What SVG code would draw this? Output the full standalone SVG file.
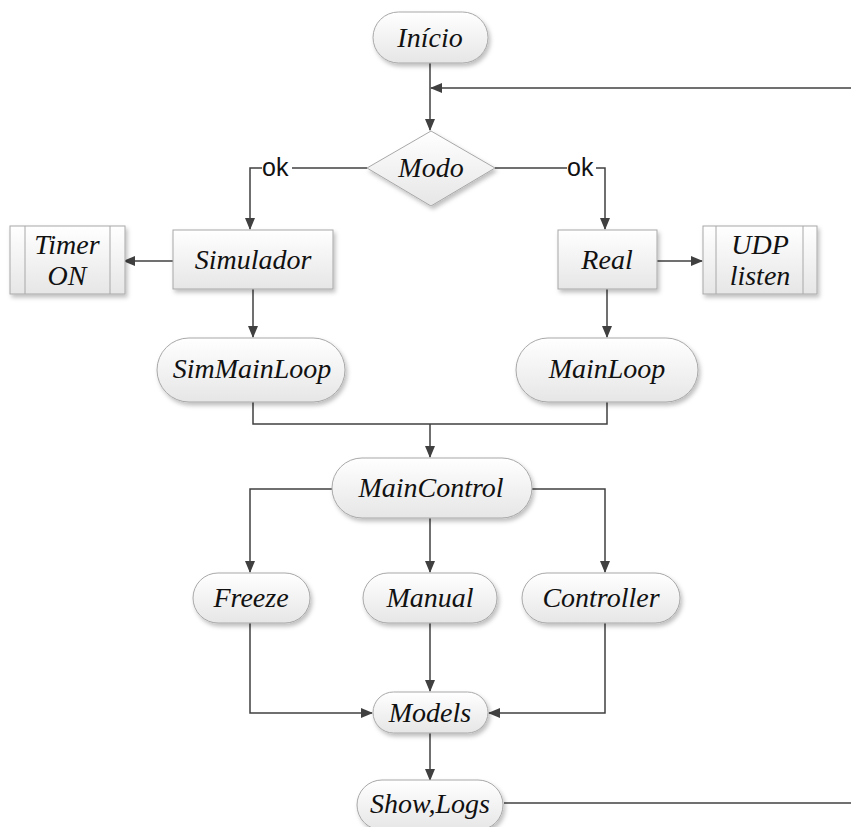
<svg xmlns="http://www.w3.org/2000/svg" width="851" height="827" viewBox="0 0 851 827">
  <style>
    .shape { fill: url(#fillGrad); stroke: #a8a8a8; stroke-width: 1; filter: url(#shadow); }
    .inner { stroke: #a8a8a8; stroke-width: 1; fill: none; }
    .label { font-family: "Liberation Serif", "DejaVu Serif", serif; font-style: italic; font-size: 28px; fill: #111; text-anchor: middle; }
    .ok { font-family: "Liberation Sans", "DejaVu Sans", sans-serif; font-size: 25px; fill: #111; }
    .wire { fill: none; stroke: #404040; stroke-width: 1.5; }
    .arrow { marker-end: url(#head); }
  </style>
  <defs>
    <linearGradient id="fillGrad" x1="0" y1="0" x2="0" y2="1">
      <stop offset="0" stop-color="#ffffff"/>
      <stop offset="1" stop-color="#e6e6e6"/>
    </linearGradient>
    <filter id="shadow" x="-20%" y="-20%" width="140%" height="150%">
      <feDropShadow dx="2" dy="3" stdDeviation="2" flood-color="#000" flood-opacity="0.25"/>
    </filter>
    <marker id="head" markerWidth="12" markerHeight="10" refX="11" refY="5" orient="auto" markerUnits="userSpaceOnUse">
      <path d="M0,0 L12,5 L0,10 Z" fill="#404040"/>
    </marker>
  </defs>

  <!-- connectors -->
  <g id="connectors">
    <path class="wire arrow" d="M430,63 V130"/>
    <path class="wire arrow" d="M851,88 H431"/>
    <path class="wire" d="M367,168 H292"/>
    <path class="wire arrow" d="M262,168 H250 V229"/>
    <text class="ok" x="262" y="176">ok</text>
    <path class="wire" d="M495,168 H567"/>
    <path class="wire arrow" d="M596,168 H605 V229"/>
    <text class="ok" x="567" y="176">ok</text>
    <path class="wire arrow" d="M173,261 H124"/>
    <path class="wire arrow" d="M657,261 H702"/>
    <path class="wire arrow" d="M253,289 V337"/>
    <path class="wire arrow" d="M607,289 V337"/>
    <path class="wire" d="M253,402 V424 H607 V402"/>
    <path class="wire arrow" d="M430,424 V457"/>
    <path class="wire arrow" d="M332,489 H250 V572"/>
    <path class="wire arrow" d="M532,489 H605 V572"/>
    <path class="wire arrow" d="M430,518 V572"/>
    <path class="wire arrow" d="M250,623 V713 H372"/>
    <path class="wire arrow" d="M605,623 V713 H489"/>
    <path class="wire arrow" d="M430,623 V691"/>
    <path class="wire arrow" d="M430,733 V780"/>
    <path class="wire" d="M504,803 H851"/>
  </g>

  <g id="inicio">
    <rect class="shape" x="373" y="12" width="115" height="51" rx="25.5"/>
    <text class="label" x="430" y="47">Início</text>
  </g>

  <g id="modo">
    <polygon class="shape" points="431,131 495,168 431,206 367,168"/>
    <text class="label" x="431" y="177">Modo</text>
  </g>

  <g id="simulador">
    <rect class="shape" x="173" y="230" width="160" height="59"/>
    <text class="label" x="253" y="269">Simulador</text>
  </g>

  <g id="timer">
    <rect class="shape" x="10" y="226" width="115" height="68"/>
    <line class="inner" x1="25" y1="226" x2="25" y2="294"/>
    <line class="inner" x1="110" y1="226" x2="110" y2="294"/>
    <text class="label" x="67" y="254">Timer</text>
    <text class="label" x="67" y="285">ON</text>
  </g>

  <g id="real">
    <rect class="shape" x="558" y="230" width="99" height="59"/>
    <text class="label" x="607" y="269">Real</text>
  </g>

  <g id="udp">
    <rect class="shape" x="703" y="226" width="114" height="68"/>
    <line class="inner" x1="716" y1="226" x2="716" y2="294"/>
    <line class="inner" x1="803" y1="226" x2="803" y2="294"/>
    <text class="label" x="760" y="254">UDP</text>
    <text class="label" x="760" y="285">listen</text>
  </g>

  <g id="simmainloop">
    <rect class="shape" x="157" y="338" width="188" height="64" rx="32"/>
    <text class="label" x="252" y="378">SimMainLoop</text>
  </g>

  <g id="mainloop">
    <rect class="shape" x="516" y="338" width="182" height="64" rx="32"/>
    <text class="label" x="607" y="378">MainLoop</text>
  </g>

  <g id="maincontrol">
    <rect class="shape" x="332" y="458" width="200" height="60" rx="30"/>
    <text class="label" x="431" y="497">MainControl</text>
  </g>

  <g id="freeze">
    <rect class="shape" x="193" y="573" width="117" height="50" rx="25"/>
    <text class="label" x="251" y="607">Freeze</text>
  </g>

  <g id="manual">
    <rect class="shape" x="363" y="573" width="134" height="50" rx="25"/>
    <text class="label" x="430" y="607">Manual</text>
  </g>

  <g id="controller">
    <rect class="shape" x="522" y="573" width="158" height="50" rx="25"/>
    <text class="label" x="601" y="607">Controller</text>
  </g>

  <g id="models">
    <rect class="shape" x="373" y="692" width="115" height="41" rx="20.5"/>
    <text class="label" x="430" y="722">Models</text>
  </g>

  <g id="showlogs">
    <rect class="shape" x="357" y="780" width="146" height="50" rx="25"/>
    <text class="label" x="430" y="813">Show,Logs</text>
  </g>
</svg>
